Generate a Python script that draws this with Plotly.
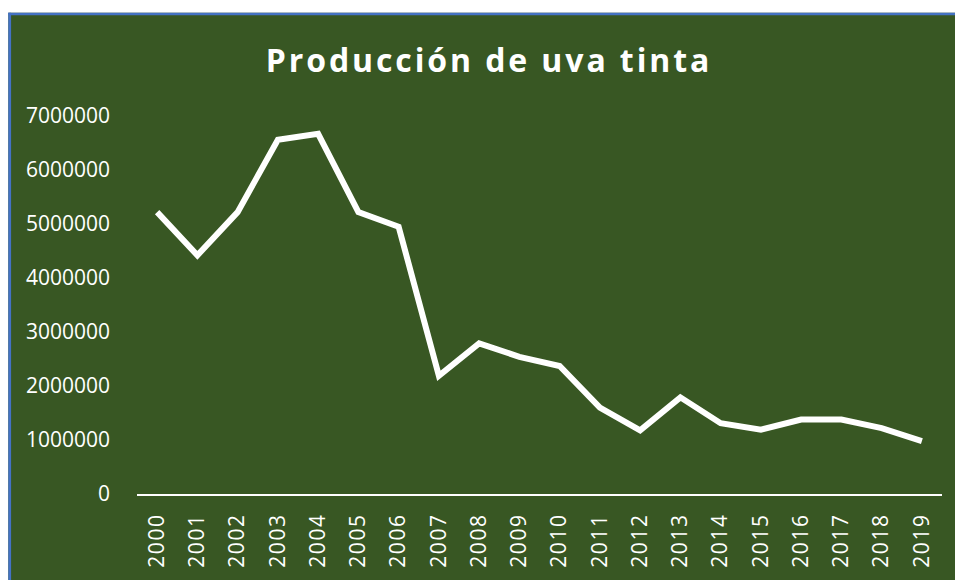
import plotly.graph_objects as go

# data
years = [str(y) for y in range(2000, 2020)]
produccion = [5220000, 4420000, 5220000, 6560000, 6670000, 5220000, 4950000,
              2190000, 2790000, 2540000, 2370000, 1600000, 1180000, 1790000,
              1310000, 1190000, 1380000, 1380000, 1220000, 980000]
y_ticks = [0, 1000000, 2000000, 3000000, 4000000, 5000000, 6000000, 7000000]

W, H = 955, 580
L, R, T, B = 137, 13, 115.5, 82
GREEN = "#385723"
BLUE = "#4472C4"


def px(x):
    # page pixel -> paper x
    return (x - L) / (W - L - R)


def py(y):
    # page pixel -> paper y
    return (H - B - y) / (H - T - B)


fig = go.Figure()
fig.add_trace(go.Scatter(
    x=years, y=produccion, mode="lines",
    line=dict(color="white", width=6),
    hoverinfo="x+y", showlegend=False,
))

# white strips outside the chart box, then the blue border on top and left
fig.add_shape(type="rect", xref="paper", yref="paper",
              x0=px(-10), x1=px(W + 10), y0=py(-10), y1=py(11),
              fillcolor="white", line_width=0, layer="above")
fig.add_shape(type="rect", xref="paper", yref="paper",
              x0=px(-10), x1=px(8.3), y0=py(-10), y1=py(H + 10),
              fillcolor="white", line_width=0, layer="above")
fig.add_shape(type="line", xref="paper", yref="paper",
              x0=px(8.3), x1=px(W + 10), y0=py(12.2), y1=py(12.2),
              line=dict(color=BLUE, width=2.5), layer="above")
fig.add_shape(type="line", xref="paper", yref="paper",
              x0=px(9.7), x1=px(9.7), y0=py(11), y1=py(H + 10),
              line=dict(color=BLUE, width=2.8), layer="above")

fig.update_layout(
    width=W, height=H,
    margin=dict(l=L, r=R, t=T, b=B),
    paper_bgcolor=GREEN,
    plot_bgcolor=GREEN,
    title=dict(
        text='<span style="letter-spacing:2.9px">Producción de uva tinta</span>',
        font=dict(family="Open Sans", size=32, color="white", weight="bold"),
        x=489 / W, xanchor="center",
        y=1 - 61 / H, yanchor="middle",
    ),
    font=dict(family="Open Sans", color="white"),
    xaxis=dict(
        type="category",
        range=[-0.5, 19.5],
        tickvals=years,
        ticktext=['<span style="letter-spacing:1.6px">%s</span>' % y for y in years],
        showgrid=False, zeroline=False,
        showline=True, linecolor="white", linewidth=2,
        ticks="", tickangle=-90,
        tickfont=dict(size=21, color="white"),
        ticklabelstandoff=9,
    ),
    yaxis=dict(
        range=[0, 7000000],
        tickvals=y_ticks,
        ticktext=[str(v) for v in y_ticks],
        showgrid=False, zeroline=False, showline=False,
        ticks="",
        tickfont=dict(size=21, color="white"),
        ticklabelstandoff=26,
    ),
)

# figure is exactly window-sized: drop the default page margin and scrollbars
fig.write_html(
    "out.html",
    config={"displayModeBar": False},
    post_script="document.body.style.margin='0';"
                "document.documentElement.style.overflow='hidden';"
                "document.body.style.overflow='hidden';",
)
